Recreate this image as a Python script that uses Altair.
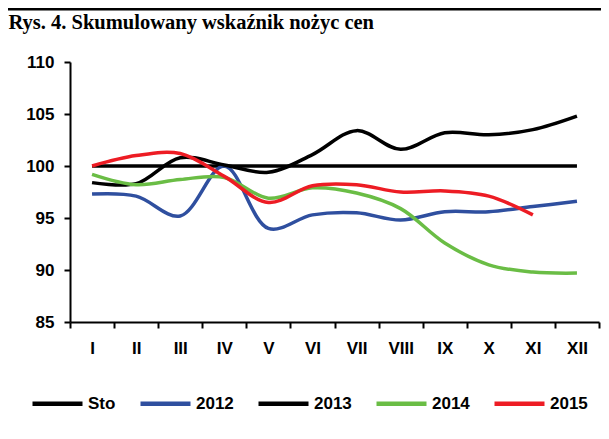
import altair as alt
import pandas as pd

months = ["I", "II", "III", "IV", "V", "VI", "VII", "VIII", "IX", "X", "XI", "XII"]
series = ["Sto", "2012", "2013", "2014", "2015"]
colors = ["#000000", "#2f4f9f", "#000000", "#6abd45", "#ed1c24"]

sto = [100, 100, 100, 100, 100, 100, 100, 100, 100, 100, 100, 100]
y2012 = [97.3, 97.1, 95.2, 100.0, 94.0, 95.3, 95.5, 94.8, 95.6, 95.6, 96.1, 96.6]
y2013 = [98.4, 98.3, 100.8, 100.1, 99.4, 101.1, 103.4, 101.6, 103.2, 103.0, 103.5, 104.8]
y2014 = [99.2, 98.2, 98.7, 98.9, 96.9, 97.9, 97.4, 95.9, 92.6, 90.5, 89.8, 89.7]
y2015 = [100.0, 101.0, 101.2, 99.0, 96.5, 98.1, 98.2, 97.5, 97.6, 97.1, 95.3]

rows = []
for name, vals in zip(series, [sto, y2012, y2013, y2014, y2015]):
    for m, v in zip(months, vals):
        rows.append({"month": m, "series": name, "value": v})
df = pd.DataFrame(rows)

W, H = 529, 260
FONT = "Liberation Sans"

x_enc = alt.X(
    "month:N",
    sort=months,
    scale=alt.Scale(type="band", domain=months, paddingInner=0, paddingOuter=0),
    axis=alt.Axis(title=None, labelAngle=0, tickBand="extent", labelPadding=12),
)
y_enc = alt.Y(
    "value:Q",
    scale=alt.Scale(domain=[85, 110], nice=False, zero=False),
    axis=alt.Axis(title=None, values=[85, 90, 95, 100, 105, 110], grid=False, labelPadding=10),
)
color_enc = alt.Color(
    "series:N",
    sort=series,
    scale=alt.Scale(domain=series, range=colors),
    legend=alt.Legend(
        orient="none",
        legendX=-40,
        legendY=314,
        direction="horizontal",
        columns=5,
        title=None,
        symbolType="stroke",
        symbolSize=2500,
        symbolStrokeWidth=4.5,
        labelFont=FONT,
        labelFontSize=17,
        labelFontWeight="bold",
        labelColor="#000000",
        labelOffset=3,
        columnPadding=15,
    ),
)

sto_layer = alt.Chart(df).transform_filter(alt.datum.series == "Sto").mark_line(
    strokeWidth=3.5, interpolate="catmull-rom"
).encode(x=x_enc, y=y_enc, color=color_enc)

other_layer = alt.Chart(df).transform_filter(alt.datum.series != "Sto").mark_line(
    strokeWidth=3.5, interpolate="catmull-rom"
).encode(x=x_enc, y=y_enc, color=color_enc)

top_line = alt.Chart(pd.DataFrame({"k": [0]})).mark_rule(
    color="#000000", strokeWidth=3
).encode(x=alt.value(-62), x2=alt.value(W + 2), y=alt.value(-53))

chart = (
    alt.layer(top_line, sto_layer, other_layer)
    .properties(
        width=W,
        height=H,
        autosize=alt.AutoSizeParams(type="none"),
        padding={"left": 62, "top": 54, "right": 2, "bottom": 109},
        title=alt.TitleParams(
            "Rys. 4. Skumulowany wskaźnik nożyc cen",
            anchor="start",
            font="Liberation Serif",
            fontSize=20.5,
            fontWeight="bold",
            color="#000000",
            dx=2,
            dy=22,
            offset=-4,
        ),
    )
    .configure_view(stroke=None)
    .configure_axis(
        domainColor="#000000",
        domainWidth=2,
        tickColor="#000000",
        tickWidth=2,
        tickSize=6,
        labelFont=FONT,
        labelFontSize=17,
        labelFontWeight="bold",
        labelColor="#000000",
    )
)

chart.save("out.html", embed_options={"renderer": "svg", "actions": False})
